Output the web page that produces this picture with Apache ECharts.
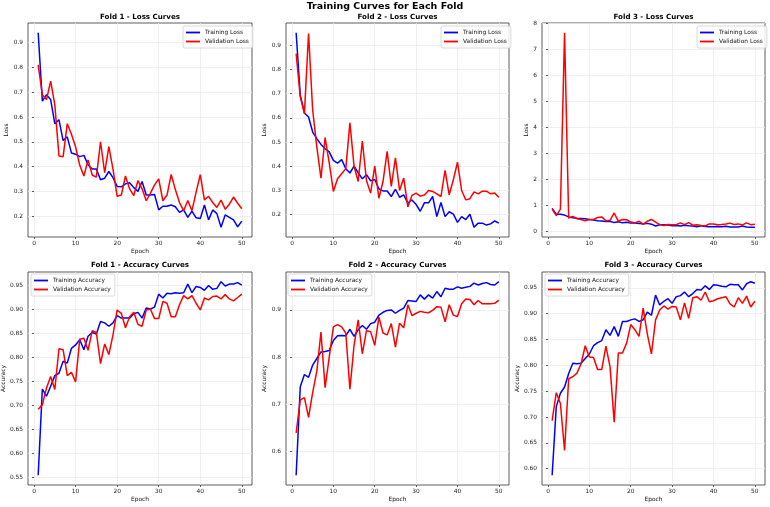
<!DOCTYPE html>
<html>
<head>
<meta charset="utf-8">
<script src="https://cdn.jsdelivr.net/npm/echarts@6/dist/echarts.min.js"></script>
<style>
html, body { margin: 0; padding: 0; background: #fff; }
#chart { width: 770px; height: 507px; }
</style>
</head>
<body>
<div id="chart"></div>
<script>
// epochs (x values)
const epochs = [1,2,3,4,5,6,7,8,9,10,11,12,13,14,15,16,17,18,19,20,21,22,23,24,25,
  26,27,28,29,30,31,32,33,34,35,36,37,38,39,40,41,42,43,44,45,46,47,48,49,50];

// loss curves
const fold1TrainLoss = [0.94,0.664,0.69,0.67,0.573,0.589,0.505,0.52,0.455,0.45,
  0.44,0.445,0.407,0.39,0.39,0.347,0.353,0.38,0.355,0.32,
  0.318,0.33,0.335,0.315,0.3,0.34,0.285,0.285,0.287,0.225,
  0.24,0.24,0.245,0.238,0.215,0.225,0.195,0.22,0.193,0.19,
  0.245,0.185,0.225,0.21,0.155,0.205,0.195,0.185,0.157,0.18];
const fold1ValLoss = [0.81,0.69,0.67,0.745,0.65,0.443,0.44,0.573,0.53,0.48,
  0.405,0.362,0.427,0.366,0.357,0.5,0.375,0.48,0.39,0.28,
  0.285,0.362,0.31,0.283,0.343,0.31,0.262,0.292,0.326,0.35,
  0.262,0.285,0.368,0.307,0.255,0.222,0.263,0.222,0.297,0.367,
  0.265,0.28,0.255,0.235,0.265,0.228,0.248,0.277,0.252,0.23];
const fold2TrainLoss = [0.951,0.693,0.62,0.603,0.541,0.514,0.49,0.472,0.459,0.424,
  0.413,0.427,0.39,0.372,0.4,0.373,0.348,0.365,0.34,0.345,
  0.307,0.298,0.298,0.275,0.305,0.272,0.282,0.248,0.261,0.242,
  0.214,0.249,0.249,0.275,0.192,0.25,0.192,0.212,0.202,0.168,
  0.192,0.18,0.202,0.148,0.165,0.165,0.157,0.162,0.174,0.165];
const fold2ValLoss = [0.865,0.686,0.617,0.948,0.631,0.48,0.351,0.518,0.414,0.296,
  0.348,0.369,0.39,0.579,0.4,0.337,0.504,0.341,0.289,0.4,
  0.268,0.337,0.461,0.317,0.435,0.3,0.351,0.232,0.28,0.289,
  0.277,0.281,0.3,0.296,0.286,0.275,0.383,0.282,0.344,0.417,
  0.3,0.261,0.266,0.294,0.286,0.297,0.297,0.286,0.289,0.272];
const fold3TrainLoss = [0.88,0.65,0.65,0.62,0.55,0.52,0.5,0.49,0.48,0.45,
  0.43,0.4,0.39,0.37,0.38,0.33,0.36,0.32,0.34,0.31,
  0.31,0.3,0.28,0.3,0.27,0.2,0.25,0.25,0.24,0.21,
  0.22,0.2,0.23,0.21,0.2,0.17,0.21,0.18,0.17,0.17,
  0.18,0.17,0.19,0.16,0.16,0.16,0.2,0.16,0.15,0.15];
const fold3ValLoss = [0.85,0.6,0.85,7.64,0.5,0.57,0.48,0.45,0.4,0.45,
  0.45,0.53,0.55,0.4,0.42,0.7,0.38,0.45,0.44,0.35,
  0.32,0.38,0.27,0.38,0.45,0.35,0.25,0.22,0.26,0.25,
  0.25,0.32,0.25,0.33,0.23,0.25,0.22,0.2,0.28,0.28,
  0.25,0.26,0.28,0.31,0.26,0.28,0.24,0.32,0.25,0.27];

// accuracy curves
const fold1TrainAcc = [0.554,0.734,0.719,0.74,0.762,0.767,0.792,0.788,0.819,0.826,
  0.837,0.816,0.844,0.852,0.849,0.875,0.872,0.865,0.872,0.887,
  0.882,0.882,0.882,0.891,0.894,0.882,0.903,0.901,0.905,0.932,
  0.924,0.934,0.933,0.935,0.934,0.935,0.953,0.935,0.948,0.946,
  0.94,0.95,0.942,0.944,0.958,0.949,0.953,0.953,0.956,0.951];
const fold1ValAcc = [0.692,0.701,0.736,0.76,0.733,0.818,0.816,0.762,0.769,0.749,
  0.838,0.84,0.815,0.856,0.852,0.787,0.828,0.806,0.847,0.899,
  0.892,0.862,0.885,0.894,0.869,0.865,0.899,0.901,0.881,0.881,
  0.917,0.913,0.885,0.885,0.91,0.929,0.922,0.929,0.913,0.899,
  0.924,0.92,0.927,0.928,0.922,0.931,0.922,0.918,0.925,0.932];
const fold2TrainAcc = [0.549,0.737,0.763,0.757,0.783,0.797,0.811,0.812,0.814,0.835,
  0.845,0.846,0.845,0.859,0.844,0.858,0.867,0.859,0.871,0.874,
  0.889,0.895,0.899,0.9,0.893,0.899,0.904,0.92,0.919,0.918,
  0.932,0.923,0.932,0.925,0.939,0.928,0.946,0.944,0.944,0.949,
  0.946,0.948,0.95,0.957,0.953,0.956,0.958,0.954,0.953,0.96];
const fold2ValAcc = [0.639,0.709,0.714,0.672,0.725,0.77,0.853,0.735,0.8,0.864,
  0.869,0.864,0.851,0.732,0.825,0.879,0.807,0.856,0.854,0.825,
  0.885,0.851,0.847,0.871,0.821,0.872,0.862,0.911,0.888,0.893,
  0.897,0.895,0.894,0.899,0.907,0.906,0.875,0.911,0.889,0.886,
  0.913,0.923,0.922,0.911,0.92,0.913,0.913,0.913,0.914,0.921];
const fold3TrainAcc = [0.587,0.72,0.746,0.758,0.784,0.804,0.803,0.804,0.813,0.822,
  0.838,0.844,0.848,0.869,0.858,0.875,0.856,0.885,0.885,0.888,
  0.89,0.885,0.888,0.903,0.897,0.936,0.917,0.924,0.929,0.92,
  0.933,0.935,0.942,0.933,0.939,0.947,0.946,0.954,0.947,0.956,
  0.955,0.953,0.952,0.957,0.956,0.956,0.946,0.958,0.962,0.959];
const fold3ValAcc = [0.693,0.747,0.726,0.635,0.774,0.778,0.785,0.803,0.838,0.816,
  0.815,0.792,0.792,0.837,0.797,0.69,0.824,0.824,0.843,0.879,
  0.869,0.856,0.911,0.861,0.822,0.888,0.907,0.915,0.909,0.914,
  0.913,0.888,0.921,0.891,0.931,0.933,0.926,0.942,0.923,0.925,
  0.929,0.931,0.933,0.919,0.913,0.931,0.92,0.934,0.913,0.924];

// tick labels
const epochTicks = [0, 10, 20, 30, 40, 50];
const lossTicks = [0.2, 0.3, 0.4, 0.5, 0.6, 0.7, 0.8, 0.9];
const lossTicksFold3 = [0, 1, 2, 3, 4, 5, 6, 7, 8];
const accTicksFold1 = [0.55, 0.6, 0.65, 0.7, 0.75, 0.8, 0.85, 0.9, 0.95];
const accTicksFold2 = [0.6, 0.7, 0.8, 0.9];
const accTicksFold3 = [0.6, 0.65, 0.7, 0.75, 0.8, 0.85, 0.9, 0.95];

const lossNames = ['Training Loss', 'Validation Loss'];
const accNames = ['Training Accuracy', 'Validation Accuracy'];

const FONT = 'DejaVu Sans';
const BLUE = '#0000ff';
const RED = '#ff0000';

// matplotlib style autoscale: 5% margin
function padLimits(a, b) {
    const all = a.concat(b);
    const lo = Math.min(...all), hi = Math.max(...all);
    const pad = (hi - lo) * 0.05;
    return [lo - pad, hi + pad];
}

const panels = [
    {title: 'Fold 1 - Loss Curves', yName: 'Loss', names: lossNames, train: fold1TrainLoss, val: fold1ValLoss,
     ticks: lossTicks, step: 0.1, dec: 1, box: [28, 23, 224, 214], leg: [183, 26], yGap: 14.5},
    {title: 'Fold 2 - Loss Curves', yName: 'Loss', names: lossNames, train: fold2TrainLoss, val: fold2ValLoss,
     ticks: lossTicks, step: 0.1, dec: 1, box: [286, 23, 223, 214], leg: [441, 26], yGap: 15.5},
    {title: 'Fold 3 - Loss Curves', yName: 'Loss', names: lossNames, train: fold3TrainLoss, val: fold3ValLoss,
     ticks: lossTicksFold3, step: 1, dec: 0, box: [542, 23, 223, 214], leg: [697, 26], yGap: 9.5},
    {title: 'Fold 1 - Accuracy Curves', yName: 'Accuracy', names: accNames, train: fold1TrainAcc, val: fold1ValAcc,
     ticks: accTicksFold1, step: 0.05, dec: 2, box: [28, 272, 224, 213], leg: [31, 274], yGap: 19.5},
    {title: 'Fold 2 - Accuracy Curves', yName: 'Accuracy', names: accNames, train: fold2TrainAcc, val: fold2ValAcc,
     ticks: accTicksFold2, step: 0.1, dec: 1, box: [286, 272, 223, 213], leg: [288, 274], yGap: 16.5},
    {title: 'Fold 3 - Accuracy Curves', yName: 'Accuracy', names: accNames, train: fold3TrainAcc, val: fold3ValAcc,
     ticks: accTicksFold3, step: 0.05, dec: 2, box: [542, 272, 223, 213], leg: [545, 274], yGap: 19.5}
];

const xLim = padLimits(epochs, epochs);
const labelStyle = {fontSize: 5.9, color: '#222', fontFamily: FONT};

const option = {
    animation: false,
    textStyle: {fontFamily: FONT},
    grid: [], xAxis: [], yAxis: [], series: [], legend: [],
    graphic: [{
        type: 'text', x: 385, y: 6.5,
        style: {text: 'Training Curves for Each Fold', fontSize: 9.5, fontWeight: 'bold',
                fontFamily: FONT, fill: '#000', align: 'center', verticalAlign: 'middle'}
    }]
};

panels.forEach((p, i) => {
    const [left, top, width, height] = p.box;
    const yLim = padLimits(p.train, p.val);
    option.grid.push({left, top, width, height, show: true, borderColor: '#333', borderWidth: 0.8,
                      containLabel: false, outerBoundsMode: 'none'});
    option.xAxis.push({
        type: 'value', gridIndex: i, min: xLim[0], max: xLim[1],
        minInterval: 10, maxInterval: 10,
        name: 'Epoch', nameLocation: 'middle', nameGap: 11,
        nameTextStyle: {fontSize: 5.9, color: '#111', fontFamily: FONT},
        axisLine: {show: false, onZero: false},
        axisTick: {show: true, length: 2, customValues: epochTicks, lineStyle: {color: '#333', width: 0.8}},
        axisLabel: {margin: 3, customValues: epochTicks, ...labelStyle,
                    formatter: v => (Math.abs(v / 10 - Math.round(v / 10)) < 1e-6 ? String(Math.round(v)) : '')},
        splitLine: {show: true, lineStyle: {color: '#ebebeb', width: 0.8}}
    });
    option.yAxis.push({
        type: 'value', gridIndex: i, min: yLim[0], max: yLim[1],
        minInterval: p.step, maxInterval: p.step,
        name: p.yName, nameLocation: 'middle', nameGap: p.yGap,
        nameTextStyle: {fontSize: 5.9, color: '#111', fontFamily: FONT},
        axisLine: {show: false},
        axisTick: {show: true, length: 2, customValues: p.ticks, lineStyle: {color: '#333', width: 0.8}},
        axisLabel: {margin: 5, customValues: p.ticks, ...labelStyle,
                    formatter: v => (Math.abs(v / p.step - Math.round(v / p.step)) < 1e-6 ? v.toFixed(p.dec) : '')},
        splitLine: {show: true, lineStyle: {color: '#ebebeb', width: 0.8}}
    });
    [[p.train, p.names[0], BLUE], [p.val, p.names[1], RED]].forEach(([vals, name, color]) => {
        option.series.push({
            type: 'line', name, xAxisIndex: i, yAxisIndex: i,
            data: epochs.map((e, j) => [e, vals[j]]),
            symbol: 'none', clip: true,
            lineStyle: {color, width: 1.5},
            itemStyle: {color}
        });
    });
    option.legend.push({
        data: p.names, left: p.leg[0], top: p.leg[1], orient: 'vertical',
        icon: 'rect', itemWidth: 14, itemHeight: 1.8, itemGap: 0,
        padding: [2, 4, 2, 3],
        backgroundColor: 'rgba(255,255,255,0.85)', borderColor: '#d0d0d0', borderWidth: 0.8, borderRadius: 2,
        textStyle: {fontSize: 5.9, lineHeight: 9, color: '#111', fontFamily: FONT}
    });
    // subplot title
    option.graphic.push({
        type: 'text', x: left + width / 2, y: top - (i < 3 ? 5.5 : 6.5),
        style: {text: p.title, fontSize: 7.1, fontWeight: 'bold', fontFamily: FONT, fill: '#000',
                align: 'center', verticalAlign: 'middle'}
    });
});

const chart = echarts.init(document.getElementById('chart'), null, {renderer: 'canvas'});
chart.setOption(option);
</script>
</body>
</html>
